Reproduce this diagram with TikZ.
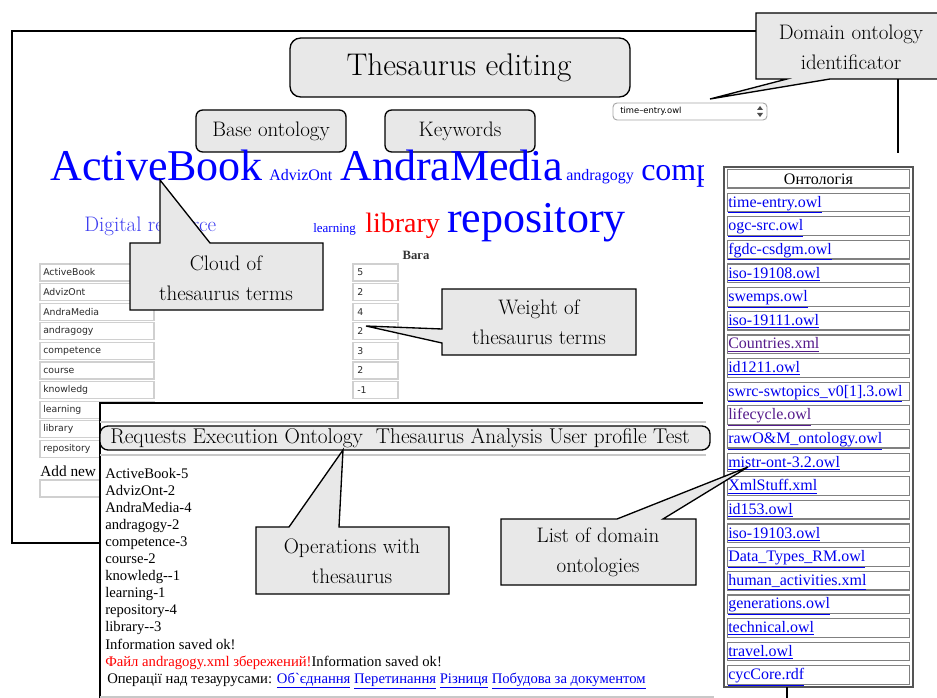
\documentclass[tikz,border=0pt]{standalone}
\usepackage{fontspec}
\newfontfamily\web{Liberation Serif}
\newfontfamily\sansf{DejaVu Sans}
\definecolor{cgray}{HTML}{E8E8E8}
\definecolor{fgray}{HTML}{D0D0D0}
\definecolor{ftxt}{HTML}{2A2A2A}
\definecolor{cblue}{HTML}{0000FF}
\definecolor{dblue}{HTML}{3C3CF0}
\definecolor{lnk}{HTML}{0000EE}
\definecolor{vis}{HTML}{551A8B}
\definecolor{lgray}{HTML}{C8C8C8}
\definecolor{tgray}{HTML}{555555}
\begin{document}
\begin{tikzpicture}[x=0.75pt,y=-0.75pt,
  callout/.style={fill=cgray,draw=black,line width=1pt,line join=miter},
  ctext/.style={font=\fontsize{15.75}{22.5}\selectfont,align=center,inner sep=0pt},
  rbox/.style={fill=cgray,draw=black,line width=1pt,rounded corners=5pt},
  frame/.style={draw=black,line width=1.1pt},
  field/.style={draw=fgray,line width=0.9pt,fill=white},
  ftext/.style={font=\sansf\fontsize{7}{8}\selectfont,text=ftxt,anchor=west,inner sep=0pt},
  cloud/.style={anchor=base west,inner sep=0pt,text=cblue},
  ptext/.style={anchor=base west,inner sep=0pt,font=\web\fontsize{11}{13}\selectfont},
  tlink/.style={anchor=base west,inner sep=0pt,font=\web\fontsize{12}{14}\selectfont},
  gline/.style={draw=lgray,line width=2pt}
]
\useasboundingbox (0,0) rectangle (937,698);
\begin{scope}
\clip (0,0) rectangle (937,698);
\fill[white] (0,0) rectangle (937,698);

% outer frame
\draw[frame] (898,153) -- (898,31) -- (12,31) -- (12,543) -- (100,543);

% title and tabs
\draw[rbox,rounded corners=8pt] (290,38) rectangle (630,97);
\node[font=\fontsize{23.5}{26}\selectfont,inner sep=0pt] (title) at (459,68) {Thesaurus editing};
\draw[rbox] (196,110) rectangle (346,152);
\node[font=\fontsize{15.75}{18}\selectfont,inner sep=0pt] (base) at (271,131) {Base ontology};
\draw[rbox] (385,110) rectangle (535,152);
\node[font=\fontsize{15.75}{18}\selectfont,inner sep=0pt] (kw) at (460,131) {Keywords};

% dropdown
\draw[draw=gray!70,fill=white,line width=0.7pt,rounded corners=3pt] (613,103) rectangle (767,120);
\node[font=\sansf\fontsize{6.3}{7}\selectfont,anchor=west,inner sep=0pt] (dd) at (620,111.5) {time–entry.owl};
\fill[black!70] (757,110) -- (763,110) -- (760,106) -- cycle;
\fill[black!70] (757,113) -- (763,113) -- (760,117) -- cycle;

% cloud of terms
\node[cloud,font=\web\fontsize{33}{36}\selectfont] (w1) at (50,181) {ActiveBook};
\node[cloud,font=\web\fontsize{12}{14}\selectfont] (w2) at (269,181) {AdvizOnt};
\node[cloud,font=\web\fontsize{33}{36}\selectfont] (w3) at (340,181) {AndraMedia};
\node[cloud,font=\web\fontsize{12}{14}\selectfont] (w4) at (566,181) {andragogy};
\begin{scope}
\clip (600,140) rectangle (703,200);
\node[cloud,font=\web\fontsize{24}{26}\selectfont] (w5) at (641,181) {comp};
\end{scope}
\node[cloud,text=dblue,font=\fontsize{15.75}{18}\selectfont] (w6) at (84,232) {Digital resource};
\node[cloud,font=\web\fontsize{9.75}{11}\selectfont] (w7) at (313,233) {learning};
\node[cloud,text=red,font=\web\fontsize{21}{24}\selectfont] (w8) at (365,233) {library};
\node[cloud,font=\web\fontsize{33}{36}\selectfont] (w9) at (447,233) {repository};

% weight header
\node[font=\web\bfseries\fontsize{9.5}{11}\selectfont,inner sep=0pt,text=black!80] (vaga) at (416,255) {Вага};

% term fields
\foreach \t [count=\i from 0] in {ActiveBook,AdvizOnt,AndraMedia,andragogy,competence,course,knowledg,learning,library,repository}{
  \draw[field] (40,264+19.6*\i) rectangle (154,281+19.6*\i);
  \node[ftext] (term\i) at (43,272.5+19.6*\i) {\t};
}
\foreach \v [count=\i from 0] in {5,2,4,2,3,2,-1}{
  \draw[field] (353,264+19.6*\i) rectangle (398,281+19.6*\i);
  \node[ftext] (wt\i) at (357,272.5+19.6*\i) {\v};
}
\node[anchor=base west,inner sep=0pt,font=\web\fontsize{11.5}{13}\selectfont] (addnew) at (40,476) {Add new};
\draw[field] (40,480) rectangle (154,497);

% domain ontology table
\fill[white] (715,153) rectangle (925,698);
\draw[draw=tgray,line width=1.6pt,fill=white] (724,167) rectangle (913,687);
\foreach \i in {0,...,21}{
  \draw[draw=gray,line width=0.9pt] (727.5,167+23.636*\i+2.5) rectangle (909.5,167+23.636*\i+21.1);
}
\node[font=\web\fontsize{12}{14}\selectfont,inner sep=0pt,anchor=base] (hdr) at (818.5,184.5) {Онтологія};
\foreach \t/\c [count=\i] in {time-entry.owl/lnk,ogc-src.owl/lnk,fgdc-csdgm.owl/lnk,iso-19108.owl/lnk,swemps.owl/lnk,iso-19111.owl/lnk,Countries.xml/vis,id1211.owl/lnk,swrc-swtopics\_v0[1].3.owl/lnk,lifecycle.owl/vis,rawO\&M\_ontology.owl/lnk,mistr-ont-3.2.owl/lnk,XmlStuff.xml/lnk,id153.owl/lnk,iso-19103.owl/lnk,Data\_Types\_RM.owl/lnk,human\_activities.xml/lnk,generations.owl/lnk,technical.owl/lnk,travel.owl/lnk,cycCore.rdf/lnk}{
  \node[tlink,text=\c] (ont\i) at (728,167+23.636*\i+16.5) {\underline{\t}};
}

% bottom panel
\fill[white] (100,403) rectangle (714,698);
\draw[frame] (100,698) -- (100,403) -- (703,403);
\draw[frame] (787,687) -- (787,698);
\draw[gline] (100,422) -- (706,422);
\draw[gline] (100,455) -- (706,455);
\draw[gline] (100,697) -- (714,697);
\draw[rbox,fill=cgray!90,rounded corners=6pt] (100,426) rectangle (710,450);
\node[anchor=west,inner sep=0pt,font=\fontsize{16}{18}\selectfont] (tabs) at (110,438) {Requests Execution Ontology\ \ Thesaurus Analysis User profile Test};
\foreach \t [count=\i from 0] in {ActiveBook-5,AdvizOnt-2,AndraMedia-4,andragogy-2,competence-3,course-2,knowledg--1,learning-1,repository-4,library--3,Information saved ok!}{
  \node[ptext] (res\i) at (105,478+17.1*\i) {\t};
}
\node[ptext] (saved) at (105,666) {\textcolor{red}{Файл andragogy.xml збережений!}Information saved ok!};
\node[ptext] (ops) at (107,683) {Операції над тезаурусами: \textcolor{lnk}{\underline{Об\textasciigrave єднання} \underline{Перетинання} \underline{Різниця} \underline{Побудова за документом}}};

% callouts
\draw[callout] (130,243) -- (160,243) -- (160,180) -- (210,243) -- (323,243) -- (323,310) -- (130,310) -- cycle;
\node[ctext] (cloudc) at (226,278) {Cloud of\\thesaurus terms};
\draw[callout] (442,289) -- (636,289) -- (636,355) -- (442,355) -- (442,343) -- (366,326) -- (442,329) -- cycle;
\node[ctext] (weightc) at (539,322) {Weight of\\thesaurus terms};
\draw[callout] (960,13) -- (756,13) -- (756,79) -- (787,79) -- (710,99) -- (830,79) -- (960,79) -- cycle;
\node[ctext] (domainc) at (851,47) {Domain ontology\\identificator};
\draw[callout] (501,519) -- (617,519) -- (748,467) -- (663,519) -- (696,519) -- (696,585) -- (501,585) -- cycle;
\node[ctext] (listc) at (598,552) {List of domain\\ontologies};
\draw[callout] (256,527) -- (289,527) -- (343,450) -- (339,527) -- (449,527) -- (449,594) -- (256,594) -- cycle;
\node[ctext] (opsc) at (352,561) {Operations with\\thesaurus};
\end{scope}
\end{tikzpicture}
\end{document}
